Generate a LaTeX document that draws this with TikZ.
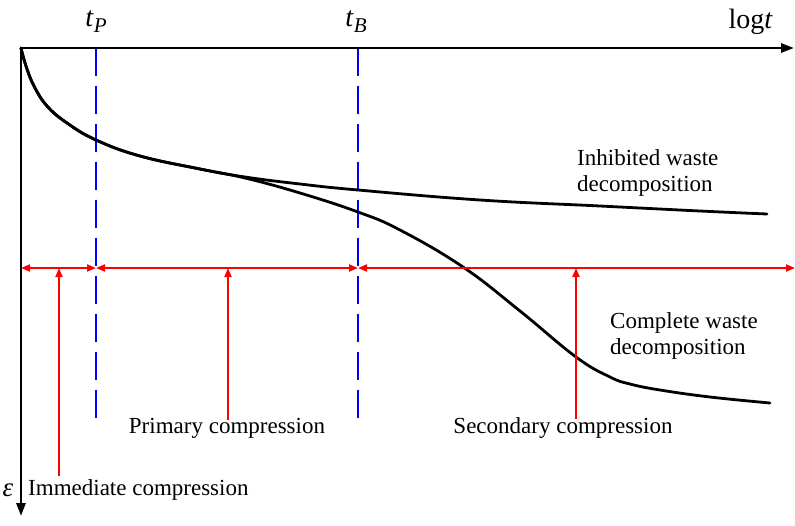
\documentclass[tikz,border=0pt]{standalone}
\usepackage{fontspec}
\setmainfont{Liberation Serif}
\usetikzlibrary{arrows.meta}
\begin{document}
\begin{tikzpicture}[x=1pt,y=-1pt,
  axis/.style={line width=2.8pt,-{Triangle[length=13pt,width=9pt]}},
  curve/.style={line width=2.8pt,line cap=round},
  guide/.style={blue,line width=1.8pt,dash pattern=on 28pt off 10pt},
  span/.style={red,line width=2pt,{Triangle[length=9pt,width=7pt]}-{Triangle[length=9pt,width=7pt]}},
  pointer/.style={red,line width=2pt,-{Triangle[length=9pt,width=7pt]}},
  lbl/.style={font=\fontsize{23}{26}\selectfont,inner sep=0pt},
  big/.style={font=\fontsize{28}{30}\selectfont,inner sep=0pt},
  every node/.style={inner sep=0pt}]
\useasboundingbox (0,0) rectangle (795,525);
\fill[white] (0,0) rectangle (795,525);
% axes
\coordinate (O) at (21,48);
\coordinate (xend) at (794,48);
\coordinate (yend) at (21,516);
% guide lines
\coordinate (p0) at (96,48);
\coordinate (p1) at (96,420);
\coordinate (b0) at (358,48);
\coordinate (b1) at (358,420);
\draw[guide] (p0) -- (p1);
\draw[guide] (b0) -- (b1);
% curves
\draw[curve] plot[smooth,tension=0.7] coordinates {(21,48) (26,66) (34,86) (47,106) (67,123) (96,140) (140,156) (200,169) (245,177) (300,184) (358,190) (480,200) (600,206) (700,211) (767,214)};
\draw[curve] plot[smooth,tension=0.7] coordinates {(21,48) (26,66) (34,86) (47,106) (67,123) (96,140) (140,156) (200,169) (245,178) (300,193) (358,212) (400,230) (463,267) (520,311) (576,357) (610,377) (630,384) (660,390) (710,397) (770,403)};
\draw[axis] (O) -- (xend);
\draw[axis] (O) -- (yend);
% red spans
\coordinate (s0) at (21,268);
\coordinate (s1) at (96,268);
\coordinate (s2) at (358,268);
\coordinate (s3) at (795,268);
\draw[span] (s0) -- (s1);
\draw[span] (s1) -- (s2);
\draw[span] (s2) -- (s3);
% pointers
\coordinate (i0) at (59,476);
\coordinate (i1) at (59,268);
\coordinate (m0) at (228,420);
\coordinate (m1) at (228,268);
\coordinate (c0) at (576,419);
\coordinate (c1) at (576,268);
\draw[pointer] (i0) -- (i1);
\draw[pointer] (m0) -- (m1);
\draw[pointer] (c0) -- (c1);
% labels
\node[big] (tP) at (96,22) {\textit{t}\raisebox{-6pt}{\fontsize{21}{21}\selectfont\textit{P}}};
\node[big] (tB) at (356,22) {\textit{t}\raisebox{-6pt}{\fontsize{21}{21}\selectfont\textit{B}}};
\node[big,anchor=east] (lt) at (773,22) {log\textit{t}};
\node[font=\fontsize{27}{28}\selectfont] (eps) at (8,490) {\textit{ε}};
\node[lbl,anchor=west] (imm) at (28,490) {Immediate compression};
\node[lbl] (pri) at (227,428) {Primary compression};
\node[lbl] (sec) at (563,428) {Secondary compression};
\node[lbl,anchor=north west,align=left] (inh) at (577,149) {Inhibited waste\\decomposition};
\node[lbl,anchor=north west,align=left] (com) at (610,312) {Complete waste\\decomposition};
\end{tikzpicture}
\end{document}
